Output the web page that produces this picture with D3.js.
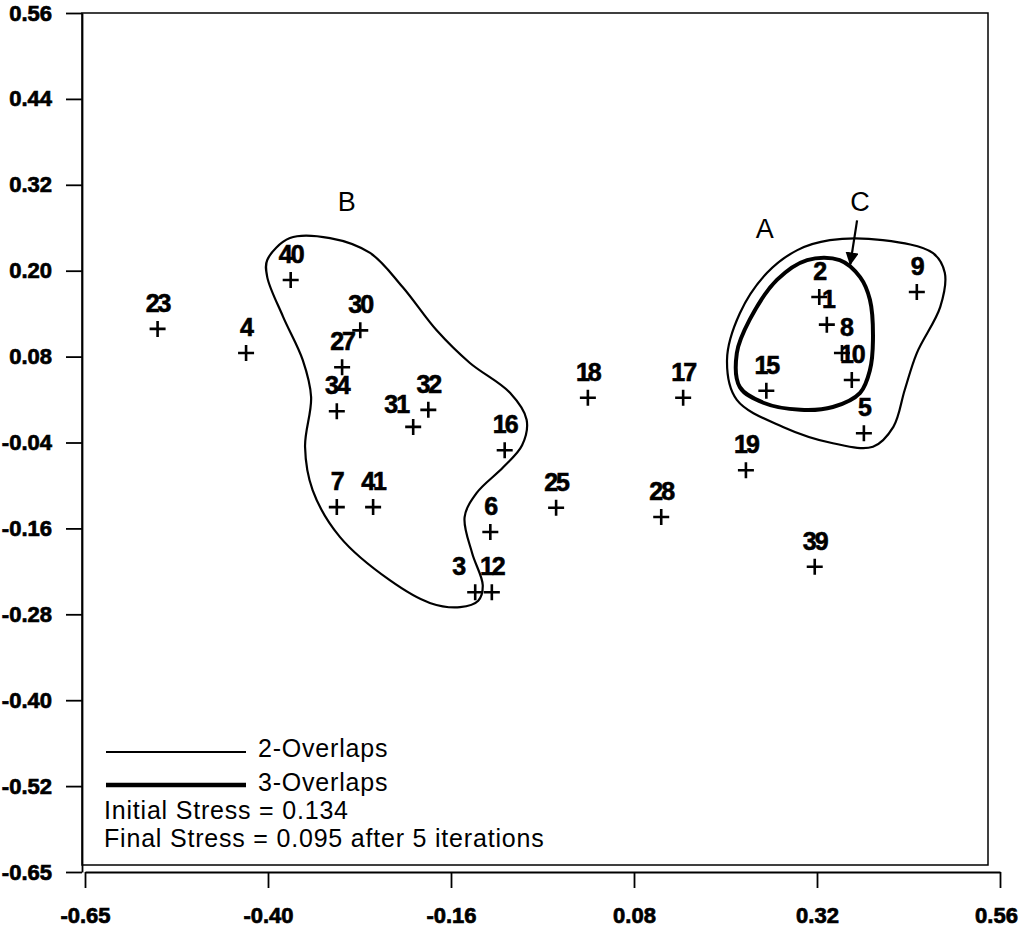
<!DOCTYPE html>
<html>
<head>
<meta charset="utf-8">
<script src="https://cdn.jsdelivr.net/npm/d3@7/dist/d3.min.js"></script>
<style>
  body { margin: 0; background: #fff; }
  svg { display: block; }
  text { font-family: "Liberation Sans", Arial, sans-serif; fill: #000; }
</style>
</head>
<body>
<svg id="chart" width="1020" height="928"></svg>
<script>
// MDS configuration - point ids and coordinates
var pointIds = ['23', '4', '40', '30', '27', '34', '31', '32', '16', '7', '41', '6', '3', '12',
                '25', '18', '17', '28', '19', '39', '15', '2', '1', '8', '10', '5', '9'];
var pointX = [-0.554, -0.437, -0.378, -0.286, -0.310, -0.317, -0.216, -0.196, -0.095, -0.317, -0.269, -0.114, -0.134, -0.112,
              -0.027, 0.015, 0.141, 0.112, 0.224, 0.315, 0.251, 0.321, 0.331, 0.351, 0.364, 0.380, 0.450];
var pointY = [0.115, 0.081, 0.184, 0.113, 0.061, -0.001, -0.023, 0.001, -0.056, -0.136, -0.136, -0.171, -0.256, -0.256,
              -0.137, 0.018, 0.018, -0.150, -0.084, -0.220, 0.028, 0.160, 0.121, 0.081, 0.043, -0.032, 0.167];

// cluster outlines (data units)
var outlineBX = [-0.409, -0.379, -0.326, -0.273, -0.230, -0.185, -0.141, -0.088, -0.066, -0.072, -0.097, -0.132, -0.148,
                 -0.138, -0.124, -0.130, -0.154, -0.194, -0.247, -0.313, -0.349, -0.359, -0.351, -0.362, -0.388, -0.409];
var outlineBY = [0.212, 0.243, 0.243, 0.222, 0.174, 0.113, 0.067, 0.025, -0.013, -0.049, -0.080, -0.116, -0.150,
                 -0.201, -0.246, -0.268, -0.277, -0.271, -0.239, -0.178, -0.112, -0.051, 0.019, 0.071, 0.132, 0.188];
var outlineAX = [0.335, 0.405, 0.471, 0.487, 0.481, 0.450, 0.434, 0.419, 0.392, 0.339, 0.273, 0.212, 0.199, 0.216, 0.252, 0.292];
var outlineAY = [0.240, 0.240, 0.222, 0.194, 0.146, 0.081, 0.029, -0.023, -0.051, -0.046, -0.023, 0.015, 0.071, 0.137, 0.194, 0.226];
var outlineCX = [0.305, 0.348, 0.375, 0.388, 0.392, 0.388, 0.375, 0.339, 0.296, 0.247, 0.216, 0.212, 0.229, 0.265];
var outlineCY = [0.212, 0.212, 0.188, 0.156, 0.099, 0.057, 0.025, 0.005, 0.001, 0.011, 0.033, 0.081, 0.128, 0.184];

var groupNames = ['A', 'B', 'C'];
var groupX = [0.249, -0.304, 0.375];
var groupY = [0.257, 0.294, 0.294];
var arrowX = [0.371, 0.362];
var arrowY = [0.268, 0.206];

var xTickLabels = ['-0.65', '-0.40', '-0.16', '0.08', '0.32', '0.56'];
var yTickLabels = ['0.56', '0.44', '0.32', '0.20', '0.08', '-0.04', '-0.16', '-0.28', '-0.40', '-0.52', '-0.65'];
var legendLabels = ['2-Overlaps', '3-Overlaps'];
var stressLines = ['Initial Stress = 0.134', 'Final Stress = 0.095 after 5 iterations'];

var svg = d3.select('#chart');

var x = d3.scaleLinear().domain([-0.65, 0.56]).range([85, 1000]);
var y = d3.scaleLinear().domain([-0.65, 0.56]).range([872, 13]);

var xTicks = d3.range(6).map(function(i) { return -0.65 + i * 1.21 / 5; });
var yTicks = d3.range(11).map(function(i) { return 0.56 - i * 1.21 / 10; });

// frame
svg.append('rect')
    .attr('x', 82).attr('y', 13)
    .attr('width', 906).attr('height', 852)
    .attr('fill', 'none').attr('stroke', '#000').attr('stroke-width', 1.5);

// y axis
var yAxis = svg.append('g')
    .attr('transform', 'translate(82,0)')
    .call(d3.axisLeft(y).tickValues(yTicks).tickSize(16).tickSizeOuter(0)
      .tickFormat(function(d, i) { return yTickLabels[i]; }));
yAxis.selectAll('path, line').attr('stroke', '#000').attr('stroke-width', 1.8);
yAxis.selectAll('text')
    .attr('x', -30)
    .style('font-size', '22px').style('font-weight', 'bold')
    .style('font-family', '"Liberation Sans", Arial, sans-serif')
    .style('stroke', '#000').style('stroke-width', '0.7px');

// x axis
var xAxis = svg.append('g')
    .attr('transform', 'translate(0,872)')
    .call(d3.axisBottom(x).tickValues(xTicks).tickSize(16).tickSizeOuter(0)
      .tickFormat(function(d, i) { return xTickLabels[i]; }));
xAxis.selectAll('path, line').attr('stroke', '#000').attr('stroke-width', 1.8);
xAxis.selectAll('text')
    .attr('y', 35)
    .attr('dx', function(d, i) { return i === xTickLabels.length - 1 ? -4 : 0; })
    .style('font-size', '22px').style('font-weight', 'bold')
    .style('font-family', '"Liberation Sans", Arial, sans-serif')
    .style('stroke', '#000').style('stroke-width', '0.7px');

// outlines
var outline = d3.line()
    .x(function(d) { return x(d[0]); })
    .y(function(d) { return y(d[1]); })
    .curve(d3.curveCatmullRomClosed.alpha(0.5));

var thinShapes = [d3.zip(outlineAX, outlineAY), d3.zip(outlineBX, outlineBY)];
svg.selectAll('path.thin')
    .data(thinShapes)
    .enter().append('path')
    .attr('class', 'thin')
    .attr('d', outline)
    .attr('fill', 'none').attr('stroke', '#000').attr('stroke-width', 2.2);

svg.append('path')
    .datum(d3.zip(outlineCX, outlineCY))
    .attr('d', outline)
    .attr('fill', 'none').attr('stroke', '#000').attr('stroke-width', 4);

// arrow to C
svg.append('defs').append('marker')
    .attr('id', 'arrowhead')
    .attr('viewBox', '0 0 10 10')
    .attr('refX', 9).attr('refY', 5)
    .attr('markerWidth', 6).attr('markerHeight', 6)
    .attr('markerUnits', 'strokeWidth')
    .attr('orient', 'auto')
    .append('path').attr('d', 'M0,0 L10,5 L0,10 z').attr('fill', '#000');

svg.append('line')
    .attr('x1', x(arrowX[0])).attr('y1', y(arrowY[0]))
    .attr('x2', x(arrowX[1])).attr('y2', y(arrowY[1]))
    .attr('stroke', '#000').attr('stroke-width', 2.2)
    .attr('marker-end', 'url(#arrowhead)');

// group letters
svg.selectAll('text.group')
    .data(groupNames)
    .enter().append('text')
    .attr('class', 'group')
    .attr('x', function(d, i) { return x(groupX[i]); })
    .attr('y', function(d, i) { return y(groupY[i]); })
    .attr('dy', '0.35em')
    .attr('text-anchor', 'middle')
    .style('font-size', '27px')
    .text(function(d) { return d; });

// points
var points = pointIds.map(function(id, i) { return {id: id, x: pointX[i], y: pointY[i]}; });
var labelNudge = {'3': [-17, 0], '31': [-17, 3], '8': [4, 0], '1': [1, 0]};

svg.selectAll('path.pt')
    .data(points)
    .enter().append('path')
    .attr('class', 'pt')
    .attr('d', function(d) {
      var cx = x(d.x), cy = y(d.y);
      return 'M' + (cx - 8) + ',' + cy + 'H' + (cx + 8) + 'M' + cx + ',' + (cy - 8) + 'V' + (cy + 8);
    })
    .attr('stroke', '#000').attr('stroke-width', 2.6);

svg.selectAll('text.pt')
    .data(points)
    .enter().append('text')
    .attr('class', 'pt')
    .attr('x', function(d) { return x(d.x) + (labelNudge[d.id] ? labelNudge[d.id][0] : 0); })
    .attr('y', function(d) { return y(d.y) - 17 + (labelNudge[d.id] ? labelNudge[d.id][1] : 0); })
    .attr('text-anchor', 'middle')
    .style('font-size', '25px').style('font-weight', 'bold')
    .style('letter-spacing', '-2px')
    .style('stroke', '#000').style('stroke-width', '0.6px')
    .text(function(d) { return d.id; });

// legend
var legend = svg.append('g');
legend.selectAll('line')
    .data(legendLabels)
    .enter().append('line')
    .attr('x1', 106).attr('x2', 246)
    .attr('y1', function(d, i) { return 752 + i * 33; })
    .attr('y2', function(d, i) { return 752 + i * 33; })
    .attr('stroke', '#000')
    .attr('stroke-width', function(d, i) { return i ? 4.5 : 2; });
legend.selectAll('text.leg')
    .data(legendLabels)
    .enter().append('text')
    .attr('class', 'leg')
    .attr('x', 258)
    .attr('y', function(d, i) { return 757 + i * 34; })
    .style('font-size', '25px')
    .style('letter-spacing', '0.8px')
    .text(function(d) { return d; });
legend.selectAll('text.stress')
    .data(stressLines)
    .enter().append('text')
    .attr('class', 'stress')
    .attr('x', 104)
    .attr('y', function(d, i) { return 819 + i * 28; })
    .style('font-size', '25px')
    .style('letter-spacing', '0.8px')
    .text(function(d) { return d; });
</script>
</body>
</html>
